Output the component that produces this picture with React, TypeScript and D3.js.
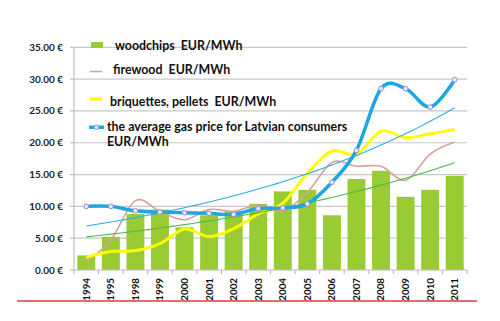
import React from 'react';
import * as d3 from 'd3';

const years = ['1994','1995','1998','1999','2000','2001','2002','2003','2004','2005','2006','2007','2008','2009','2010','2011'];
const woodchips = [2.3, 5.2, 8.8, 9.5, 6.7, 8.6, 9.3, 10.4, 12.35, 12.6, 8.6, 14.3, 15.6, 11.5, 12.6, 14.8];
const firewood = [1.3, 4.7, 10.9, 9.2, 7.9, 9.5, 9.2, 10.2, 9.3, 12.2, 16.9, 16.3, 16.3, 14.1, 18.2, 20.1];
const briquettes = [2.0, 2.9, 3.05, 4.15, 6.45, 5.25, 6.5, 8.8, 10.5, 15.2, 18.7, 18.2, 21.8, 20.8, 21.4, 22.1];
const gas = [10.0, 10.0, 9.3, 9.1, 9.0, 8.9, 8.75, 9.65, 9.75, 10.4, 13.8, 18.8, 28.5, 28.5, 25.6, 29.9];
const yTicks = [0, 5, 10, 15, 20, 25, 30, 35];
const legendLabels = ['woodchips  EUR/MWh', 'firewood  EUR/MWh', 'briquettes, pellets  EUR/MWh', 'the average gas price for Latvian consumers', 'EUR/MWh'];

// Excel-style exponential trendline (least squares on ln y)
function expFit(vals: number[]) {
  const xs = vals.map((_, i) => i + 1);
  const ly = vals.map((v) => Math.log(v));
  const mx = d3.mean(xs)!;
  const my = d3.mean(ly)!;
  let sxy = 0, sxx = 0;
  xs.forEach((x, i) => { sxy += (x - mx) * (ly[i] - my); sxx += (x - mx) * (x - mx); });
  const b = sxy / sxx;
  const a = my - b * mx;
  return (t: number) => Math.exp(a + b * t);
}

const FONT = "Lato, 'Open Sans', sans-serif";

export default function App() {
  const W = 500, H = 321;
  const x = d3.scaleBand<string>().domain(years).range([74, 467]).paddingInner(0.27).paddingOuter(0.135);
  const y = d3.scaleLinear().domain([0, 35]).range([270, 47.3]);
  const cx = (i: number) => (x(years[i]) as number) + x.bandwidth() / 2;
  const smooth = d3.line<number>().x((_, i) => cx(i)).y((v) => y(v)).curve(d3.curveCardinal.tension(0));

  const step = x.step();
  const trendPts = d3.range(1, years.length + 0.001, 0.25);
  const trendLine = (f: (t: number) => number) =>
    d3.line<number>().x((t) => cx(0) + (t - 1) * step).y((t) => y(f(t)))(trendPts) as string;
  const greenTrend = expFit(woodchips);
  const blueTrend = expFit(gas);

  const [x0, x1] = x.range();
  const boundaries = d3.range(years.length + 1).map((i) => x0 + i * step);
  const LFS = 12.4;

  return (
    <svg width={W} height={H} style={{ position: 'absolute', left: 0, top: 0, background: '#fff' }} fontFamily={FONT}>
      {/* gridlines */}
      {yTicks.filter((t) => t > 0).map((t) => (
        <line key={t} x1={x0} x2={x1} y1={y(t)} y2={y(t)} stroke="#c8c8c8" strokeWidth={1.2} />
      ))}
      {/* y axis */}
      <line x1={x0} x2={x0} y1={y(35)} y2={y(0)} stroke="#bdbdbd" strokeWidth={1.2} />
      {yTicks.map((t) => (
        <g key={t}>
          <line x1={x0 - 4} x2={x0} y1={y(t)} y2={y(t)} stroke="#bdbdbd" strokeWidth={1.2} />
          <text x={63} y={y(t)} dy="0.35em" textAnchor="end" fontSize={10} fontWeight="bold" fill="#222">
            {t.toFixed(2) + ' €'}
          </text>
        </g>
      ))}
      {/* bars */}
      {woodchips.map((v, i) => (
        <rect key={i} x={x(years[i])} y={y(v)} width={x.bandwidth()} height={y(0) - y(v)} fill="#99cc33" />
      ))}
      {/* x axis */}
      <line x1={x0} x2={x1} y1={y(0)} y2={y(0)} stroke="#bdbdbd" strokeWidth={1.2} />
      {boundaries.map((b, i) => (
        <line key={i} x1={b} x2={b} y1={y(0)} y2={y(0) + 4} stroke="#bdbdbd" strokeWidth={1.2} />
      ))}
      {years.map((yr, i) => (
        <text key={yr} transform={`translate(${cx(i)},278) rotate(-90)`} dy="0.35em" textAnchor="end" fontSize={9.8} fontWeight="bold" fill="#111">
          {yr}
        </text>
      ))}
      {/* lines */}
      <path d={smooth(firewood) as string} fill="none" stroke="#d9a19b" strokeWidth={1.6} />
      <path d={smooth(briquettes) as string} fill="none" stroke="#ffff00" strokeWidth={3} />
      <path d={trendLine(greenTrend)} fill="none" stroke="#4cb848" strokeWidth={1.1} />
      <path d={trendLine(blueTrend)} fill="none" stroke="#2aaee6" strokeWidth={1.1} />
      <path d={smooth(gas) as string} fill="none" stroke="#1ea5e3" strokeWidth={3.5} />
      {gas.map((v, i) => (
        <circle key={i} cx={cx(i)} cy={y(v)} r={2.4} fill="#ece6f6" stroke="#9a8fd0" strokeWidth={1} />
      ))}
      {/* legend */}
      <rect x={91} y={42} width={12} height={6} fill="#99cc33" />
      <text x={115} y={50} fontSize={LFS} fontWeight="bold" fill="#111" style={{ whiteSpace: 'pre' }}>{legendLabels[0]}</text>
      <line x1={90} x2={102} y1={71.5} y2={71.5} stroke="#d9a19b" strokeWidth={1.6} />
      <text x={113} y={74} fontSize={LFS} fontWeight="bold" fill="#111" style={{ whiteSpace: 'pre' }}>{legendLabels[1]}</text>
      <line x1={90} x2={102} y1={99} y2={99} stroke="#ffff00" strokeWidth={3} />
      <text x={110} y={106} fontSize={LFS} fontWeight="bold" fill="#111" style={{ whiteSpace: 'pre' }}>{legendLabels[2]}</text>
      <line x1={89} x2={104} y1={127.3} y2={127.3} stroke="#1ea5e3" strokeWidth={3.5} />
      <circle cx={96.5} cy={127.3} r={2.2} fill="#ece6f6" stroke="#9a8fd0" strokeWidth={1} />
      <text x={107} y={130.5} fontSize={LFS} fontWeight="bold" fill="#111">{legendLabels[3]}</text>
      <text x={107} y={146} fontSize={LFS} fontWeight="bold" fill="#111">{legendLabels[4]}</text>
      {/* red baseline */}
      <line x1={17} x2={477} y1={301} y2={301} stroke="#e03a36" strokeWidth={1.6} />
    </svg>
  );
}
